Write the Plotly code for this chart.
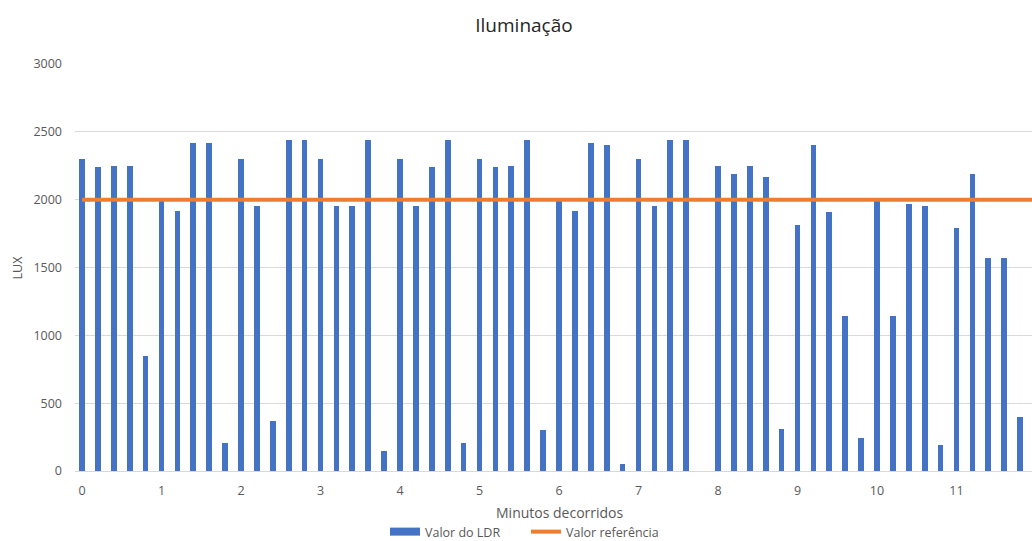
import plotly.graph_objects as go

# Minutes elapsed (one reading every 12 s)
minutos = [round(i * 0.2, 1) for i in range(61)]

# LDR readings (LUX); the last sample lies beyond the visible window
valor_ldr = [
    2300, 2240, 2250, 2250, 850, 1990, 1920, 2420, 2420, 210,
    2300, 1950, 370, 2440, 2440, 2300, 1950, 1950, 2440, 150,
    2300, 1950, 2240, 2440, 210, 2300, 2240, 2250, 2440, 300,
    1990, 1920, 2420, 2400, 50, 2300, 1950, 2440, 2440, 0,
    2250, 2190, 2250, 2170, 310, 1810, 2400, 1910, 1140, 240,
    1990, 1140, 1970, 1950, 190, 1790, 2190, 1570, 1570, 400,
    None,
]

# Reference level (LUX)
valor_referencia = [2000] * 61

x_ticks = list(range(12))
y_ticks = [0, 500, 1000, 1500, 2000, 2500, 3000]

FONT = "Open Sans"
GRAY = "#595959"
BLUE = "#4472C4"
ORANGE = "#ED7D31"

# plot area geometry in pixels
PLOT_L, PLOT_R, PLOT_T, PLOT_B = 75, 1032, 64, 471
PW, PH = PLOT_R - PLOT_L, PLOT_B - PLOT_T

fig = go.Figure()
fig.add_trace(go.Bar(
    x=minutos, y=valor_ldr, name="Valor do LDR",
    marker=dict(color=BLUE, line=dict(width=0)),
    width=0.072, showlegend=False,
))
# legend entry for the bars, drawn as a wide block
fig.add_trace(go.Scatter(
    x=[None], y=[None], name="Valor do LDR", mode="lines",
    line=dict(color=BLUE, width=8),
))
fig.add_trace(go.Scatter(
    x=minutos, y=valor_referencia, name="Valor referência",
    mode="lines", line=dict(color=ORANGE, width=4),
))

fig.update_layout(
    width=1032, height=541,
    paper_bgcolor="white", plot_bgcolor="white",
    margin=dict(l=PLOT_L, r=1032 - PLOT_R, t=PLOT_T, b=541 - PLOT_B,
                autoexpand=False),
    font=dict(family=FONT, size=12, color=GRAY),
    title=dict(text="Iluminação", x=524 / 1032, xanchor="center",
               y=1 - 25 / 541, yanchor="middle",
               font=dict(family=FONT, size=19, color="#262626")),
    showlegend=True,
    legend=dict(orientation="h", x=(526 - PLOT_L) / PW, xanchor="center",
                y=-(532 - PLOT_B) / PH, yanchor="middle",
                font=dict(family=FONT, size=12.5, color=GRAY),
                itemwidth=30, tracegroupgap=0, entrywidth=96),
    bargap=0,
    xaxis=dict(
        range=[-0.088, 11.95], tickmode="array", tickvals=x_ticks,
        ticktext=[str(t) for t in x_ticks],
        showgrid=False, zeroline=False,
        showline=True, linecolor="#D9D9D9", linewidth=1,
        ticks="", ticklabelstandoff=8,
        tickfont=dict(family=FONT, size=12.5, color=GRAY),
    ),
    yaxis=dict(
        range=[0, 3000], tickmode="array", tickvals=y_ticks,
        showgrid=True, gridcolor="#D9D9D9", gridwidth=1,
        zeroline=False, showline=False, ticks="",
        ticklabelstandoff=12,
        tickfont=dict(family=FONT, size=12.5, color=GRAY),
    ),
    annotations=[
        dict(text="Minutos decorridos", xref="paper", yref="paper",
             x=(560 - PLOT_L) / PW, y=-(512 - PLOT_B) / PH,
             xanchor="center", yanchor="middle",
             showarrow=False, font=dict(family=FONT, size=14, color=GRAY)),
        dict(text="LUX", xref="paper", yref="paper",
             x=(17 - PLOT_L) / PW, y=0.5, xanchor="center", yanchor="middle",
             textangle=-90, showarrow=False,
             font=dict(family=FONT, size=12.5, color=GRAY)),
    ],
)

fig.write_html("out.html")
